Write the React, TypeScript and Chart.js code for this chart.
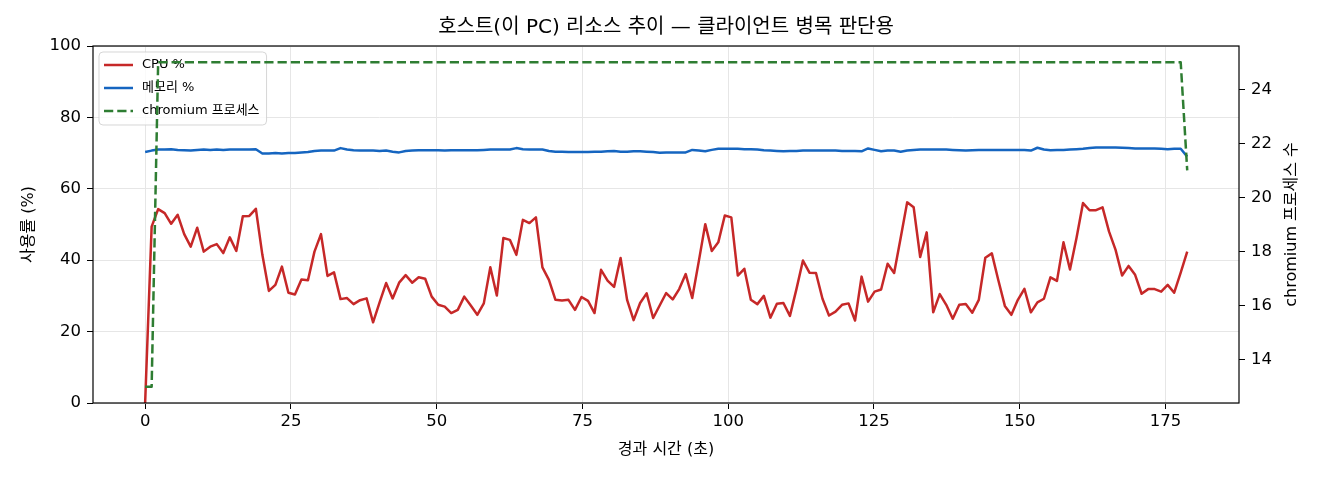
import { useEffect, useRef } from 'react';
import { Chart, registerables } from 'chart.js';

Chart.register(...registerables);

// one sample every ~1.117 s, 161 samples
const SAMPLE_SEC = 1.117;

const CPU = [
  0, 49.4, 54.3, 53.2, 50.2, 52.7, 47.3, 43.8, 49.1, 42.4,
  43.8, 44.5, 42.0, 46.4, 42.6, 52.3, 52.4, 54.4, 41.5, 31.4,
  33.1, 38.2, 30.9, 30.4, 34.6, 34.4, 42.4, 47.3, 35.6, 36.6,
  29.1, 29.4, 27.7, 28.8, 29.3, 22.6, 28.2, 33.6, 29.3, 33.7,
  35.8, 33.7, 35.2, 34.8, 29.8, 27.5, 27.0, 25.2, 26.1, 29.8,
  27.3, 24.7, 27.9, 38.0, 30.1, 46.2, 45.7, 41.5, 51.3, 50.4,
  52.0, 38.0, 34.5, 28.9, 28.7, 28.9, 26.1, 29.7, 28.6, 25.2,
  37.3, 34.3, 32.5, 40.6, 28.9, 23.2, 28.0, 30.7, 23.8, 27.3,
  30.8, 29.0, 31.9, 36.1, 29.4, 39.6, 50.1, 42.6, 45.0, 52.5,
  52.0, 35.7, 37.6, 28.9, 27.7, 30.0, 23.9, 27.8, 28.0, 24.4,
  31.9, 39.9, 36.5, 36.4, 29.2, 24.5, 25.6, 27.5, 27.9, 23.1,
  35.4, 28.4, 31.2, 31.8, 39.0, 36.4, 46.2, 56.2, 54.8, 40.9,
  47.8, 25.4, 30.5, 27.5, 23.6, 27.5, 27.7, 25.3, 28.9, 40.7,
  41.9, 34.4, 27.2, 24.7, 28.9, 32.0, 25.4, 28.2, 29.2, 35.2,
  34.2, 45.0, 37.4, 46.2, 56.0, 54.0, 54.0, 54.8, 48.0, 42.9,
  35.7, 38.4, 35.9, 30.6, 31.9, 31.9, 31.2, 33.1, 30.9, 36.5,
  42.4,
];

const MEMORY = [
  70.3, 70.7, 71.0, 71.0, 71.1, 70.9, 70.8, 70.7, 70.9, 71.0,
  70.9, 71.0, 70.9, 71.0, 71.0, 71.0, 71.0, 71.1, 69.9, 69.9,
  70.0, 69.9, 70.0, 70.0, 70.2, 70.3, 70.6, 70.7, 70.7, 70.7,
  71.4, 71.0, 70.8, 70.7, 70.7, 70.7, 70.6, 70.7, 70.4, 70.2,
  70.6, 70.7, 70.8, 70.8, 70.8, 70.8, 70.7, 70.8, 70.8, 70.8,
  70.8, 70.8, 70.9, 71.0, 71.0, 71.0, 71.0, 71.4, 71.1, 71.0,
  71.0, 71.0, 70.6, 70.4, 70.4, 70.3, 70.3, 70.3, 70.3, 70.4,
  70.4, 70.5, 70.6, 70.4, 70.4, 70.5, 70.5, 70.4, 70.3, 70.1,
  70.2, 70.2, 70.2, 70.2, 70.9, 70.7, 70.5, 70.9, 71.2, 71.2,
  71.2, 71.2, 71.1, 71.1, 71.0, 70.8, 70.7, 70.6, 70.5, 70.6,
  70.6, 70.7, 70.7, 70.7, 70.7, 70.7, 70.7, 70.6, 70.6, 70.6,
  70.5, 71.3, 70.9, 70.5, 70.7, 70.7, 70.4, 70.7, 70.9, 71.0,
  71.0, 71.0, 71.0, 71.0, 70.9, 70.8, 70.7, 70.8, 70.9, 70.9,
  70.9, 70.9, 70.9, 70.9, 70.9, 70.9, 70.7, 71.5, 71.0, 70.8,
  70.9, 70.9, 71.0, 71.1, 71.2, 71.4, 71.6, 71.6, 71.6, 71.6,
  71.5, 71.4, 71.3, 71.3, 71.3, 71.3, 71.2, 71.1, 71.2, 71.2,
  69.0,
];

const CHROMIUM = [
  13, 13, 25, 25, 25, 25, 25, 25, 25, 25,
  25, 25, 25, 25, 25, 25, 25, 25, 25, 25,
  25, 25, 25, 25, 25, 25, 25, 25, 25, 25,
  25, 25, 25, 25, 25, 25, 25, 25, 25, 25,
  25, 25, 25, 25, 25, 25, 25, 25, 25, 25,
  25, 25, 25, 25, 25, 25, 25, 25, 25, 25,
  25, 25, 25, 25, 25, 25, 25, 25, 25, 25,
  25, 25, 25, 25, 25, 25, 25, 25, 25, 25,
  25, 25, 25, 25, 25, 25, 25, 25, 25, 25,
  25, 25, 25, 25, 25, 25, 25, 25, 25, 25,
  25, 25, 25, 25, 25, 25, 25, 25, 25, 25,
  25, 25, 25, 25, 25, 25, 25, 25, 25, 25,
  25, 25, 25, 25, 25, 25, 25, 25, 25, 25,
  25, 25, 25, 25, 25, 25, 25, 25, 25, 25,
  25, 25, 25, 25, 25, 25, 25, 25, 25, 25,
  25, 25, 25, 25, 25, 25, 25, 25, 25, 25,
  21,
];

const X_TICKS = [0, 25, 50, 75, 100, 125, 150, 175];
const Y_TICKS = [0, 20, 40, 60, 80, 100];
const Y2_TICKS = [14, 16, 18, 20, 22, 24];

const TITLE = '호스트(이 PC) 리소스 추이 — 클라이언트 병목 판단용';
const X_LABEL = '경과 시간 (초)';
const Y_LABEL = '사용률 (%)';
const Y2_LABEL = 'chromium 프로세스 수';
const SERIES = ['CPU %', '메모리 %', 'chromium 프로세스'];
const COLORS = ['#c62828', '#1565c0', '#2e7d32'];
const DASH = [9.25, 4];

const FONT = '"DejaVu Sans", "Noto Sans CJK KR", sans-serif';

function points(values: number[]) {
  return values.map((v, i) => ({ x: i * SAMPLE_SEC, y: v }));
}

function drawLegend(chart: any) {
  const { ctx, chartArea: a } = chart;
  ctx.save();
  ctx.font = `13px ${FONT}`;
  const left = a.left + 6;
  const top = a.top + 6;
  const textX = left + 43;
  const maxW = Math.max(...SERIES.map((s) => ctx.measureText(s).width));
  const w = textX - left + maxW + 7;
  const h = 73;
  ctx.beginPath();
  if (ctx.roundRect) ctx.roundRect(left, top, w, h, 4);
  else ctx.rect(left, top, w, h);
  ctx.fillStyle = 'rgba(255,255,255,0.8)';
  ctx.fill();
  ctx.strokeStyle = 'rgba(204,204,204,0.8)';
  ctx.lineWidth = 1;
  ctx.stroke();
  SERIES.forEach((label, i) => {
    const y = top + 13 + i * 23;
    ctx.beginPath();
    ctx.setLineDash(i === 2 ? DASH : []);
    ctx.strokeStyle = COLORS[i];
    ctx.lineWidth = 2.5;
    ctx.moveTo(left + 5, y);
    ctx.lineTo(left + 34, y);
    ctx.stroke();
    ctx.setLineDash([]);
    ctx.fillStyle = '#000';
    ctx.textAlign = 'left';
    ctx.textBaseline = 'middle';
    ctx.fillText(label, textX, y);
  });
  ctx.restore();
}

const decorPlugin = {
  id: 'decor',
  beforeDatasetDraw(chart: any, args: any) {
    // legend belongs to the left axes, the chromium line sits above it
    if (args.index === 2) drawLegend(chart);
  },
  afterDraw(chart: any) {
    const { ctx, chartArea: a } = chart;
    ctx.save();
    ctx.strokeStyle = '#000';
    ctx.lineWidth = 1.2;
    ctx.strokeRect(a.left, a.top, a.right - a.left, a.bottom - a.top);

    ctx.fillStyle = '#000';
    ctx.textAlign = 'center';
    ctx.textBaseline = 'middle';
    ctx.font = `20px ${FONT}`;
    ctx.fillText(TITLE, (a.left + a.right) / 2, 28);

    ctx.font = `16px ${FONT}`;
    ctx.fillText(X_LABEL, (a.left + a.right) / 2, 450);

    const midY = (a.top + a.bottom) / 2;
    ctx.translate(29, midY);
    ctx.rotate(-Math.PI / 2);
    ctx.fillText(Y_LABEL, 0, 0);
    ctx.rotate(Math.PI / 2);
    ctx.translate(-29, -midY);

    ctx.translate(1292, midY);
    ctx.rotate(-Math.PI / 2);
    ctx.fillText(Y2_LABEL, 0, 0);
    ctx.restore();
  },
};

const tickFont = { family: FONT, size: 16.5 };

export default function App() {
  const canvasRef = useRef<HTMLCanvasElement | null>(null);

  useEffect(() => {
    if (!canvasRef.current) return;
    const chart = new Chart(canvasRef.current, {
      type: 'line',
      data: {
        datasets: [
          {
            label: SERIES[0],
            data: points(CPU),
            borderColor: COLORS[0],
            borderWidth: 2.5,
            yAxisID: 'y',
            order: 1,
          },
          {
            label: SERIES[1],
            data: points(MEMORY),
            borderColor: COLORS[1],
            borderWidth: 2.5,
            yAxisID: 'y',
            order: 2,
          },
          {
            label: SERIES[2],
            data: points(CHROMIUM),
            borderColor: COLORS[2],
            borderWidth: 2.5,
            borderDash: DASH,
            yAxisID: 'y2',
            order: 0,
          },
        ],
      },
      options: {
        responsive: false,
        animation: false,
        layout: { padding: { top: 46, left: 0, right: 0, bottom: 0 } },
        elements: {
          point: { radius: 0 },
          line: { tension: 0, borderJoinStyle: 'round', fill: false },
        },
        plugins: {
          legend: { display: false },
          title: { display: false },
          tooltip: { enabled: false },
        },
        scales: {
          x: {
            type: 'linear',
            min: -8.94,
            max: 187.6,
            afterBuildTicks: (s: any) => {
              s.ticks = X_TICKS.map((v) => ({ value: v }));
            },
            afterFit: (s: any) => {
              s.height = 77;
            },
            grid: { color: '#e6e6e6', tickColor: '#000', tickLength: 6 },
            border: { display: false },
            ticks: { color: '#000', font: tickFont, padding: 3, maxRotation: 0, autoSkip: false },
          },
          y: {
            position: 'left',
            min: 0,
            max: 100,
            afterBuildTicks: (s: any) => {
              s.ticks = Y_TICKS.map((v) => ({ value: v }));
            },
            afterFit: (s: any) => {
              s.width = 93;
            },
            grid: { color: '#e6e6e6', tickColor: '#000', tickLength: 6 },
            border: { display: false },
            ticks: { color: '#000', font: tickFont, padding: 6 },
          },
          y2: {
            position: 'right',
            min: 12.4,
            max: 25.6,
            afterBuildTicks: (s: any) => {
              s.ticks = Y2_TICKS.map((v) => ({ value: v }));
            },
            afterFit: (s: any) => {
              s.width = 81;
            },
            grid: { drawOnChartArea: false, tickColor: '#000', tickLength: 6 },
            border: { display: false },
            ticks: { color: '#000', font: tickFont, padding: 6 },
          },
        },
      },
      plugins: [decorPlugin],
    });

    return () => chart.destroy();
  }, []);

  return (
    <div style={{ position: 'absolute', left: 0, top: 0, width: 1320, height: 480, background: '#fff' }}>
      <canvas ref={canvasRef} width={1320} height={480}></canvas>
    </div>
  );
}
